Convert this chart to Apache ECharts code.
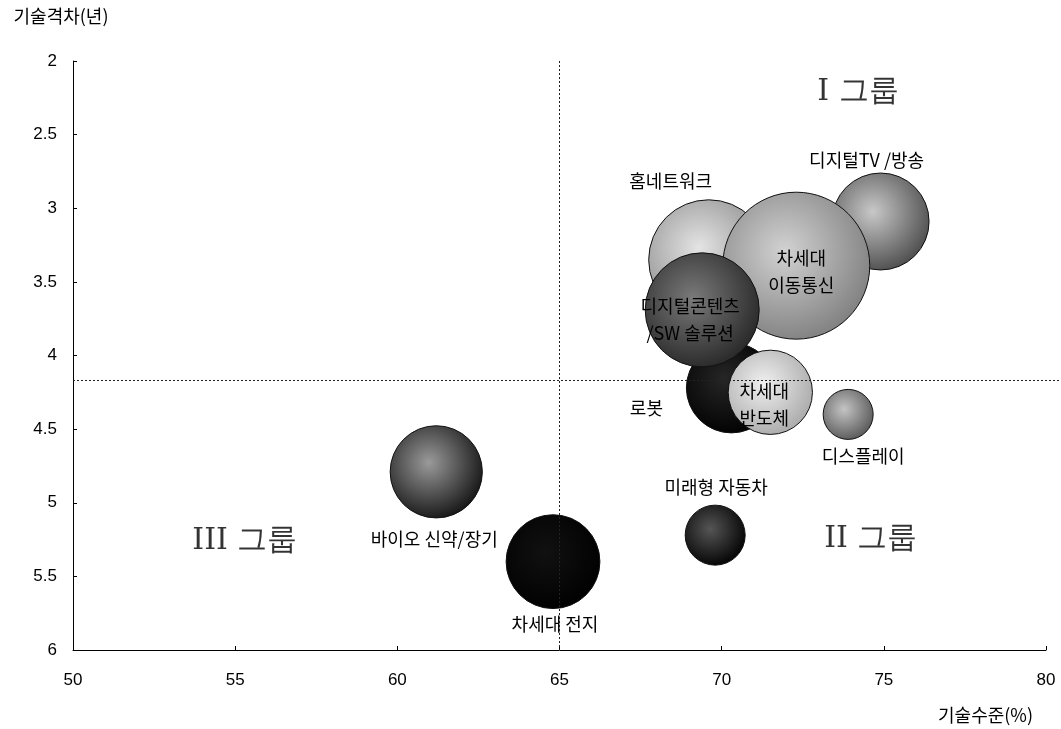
<!DOCTYPE html>
<html>
<head>
<meta charset="utf-8">
<script src="https://cdn.jsdelivr.net/npm/echarts@6/dist/echarts.min.js"></script>
<style>
  html, body { margin: 0; padding: 0; background: #fff; }
  #myChart { width: 1061px; height: 729px; }
</style>
</head>
<body>
<div id="myChart"></div>
<script>
// data
var names = ["디지털TV /방송", "홈네트워크", "차세대 이동통신", "로봇", "디지털콘텐츠 /SW 솔루션",
  "차세대 반도체", "디스플레이", "바이오 신약/장기", "미래형 자동차", "차세대 전지"];
var labels = ["디지털TV /방송", "홈네트워크", "차세대\n이동통신", "로봇", "디지털콘텐츠\n/SW 솔루션",
  "차세대\n반도체", "디스플레이", "바이오 신약/장기", "미래형 자동차", "차세대 전지"];
var techLevel = [74.9, 69.6, 72.3, 70.3, 69.4, 71.5, 73.9, 61.2, 69.8, 64.8];   // 기술수준(%)
var techGap = [3.09, 3.35, 3.39, 4.22, 3.69, 4.25, 4.40, 4.79, 5.22, 5.40];      // 기술격차(년)
var bubble = [94, 144, 216, 81, 130, 71, 25, 85, 36, 88];
var xTicks = [50, 55, 60, 65, 70, 75, 80];
var yTicks = [2, 2.5, 3, 3.5, 4, 4.5, 5, 5.5, 6];
var groups = ["I 그룹", "II 그룹", "III 그룹"];
var groupX = [74.2, 74.6, 55.3];
var groupY = [2.21, 5.25, 5.26];
var splitX = 65, splitY = 4.17;

// look of each bubble (grey tones of the print)
var tones = [
  ["#c8c8c8", "#4a4a4a"],
  ["#e4e4e4", "#8a8a8a"],
  ["#d2d2d2", "#7e7e7e"],
  ["#262626", "#000000"],
  ["#7a7a7a", "#262626"],
  ["#f0f0f0", "#a8a8a8"],
  ["#c4c4c4", "#555555"],
  ["#9a9a9a", "#111111"],
  ["#555555", "#000000"],
  ["#111111", "#000000"]
];
var offsets = [[-14, -61], [-38, -79], [5, 6], [-85, 20], [-12, 10],
  [-6, 12], [15, 42], [-2, 67], [1, -48], [2, 63]];

var chartDom = document.getElementById("myChart");
var myChart = echarts.init(chartDom, null, { renderer: "canvas" });

var pts = names.map(function (n, i) {
  return {
    name: n,
    value: [techLevel[i], techGap[i], bubble[i]],
    itemStyle: {
      color: {
        type: "radial", x: 0.42, y: 0.4, r: 0.65,
        colorStops: [{ offset: 0, color: tones[i][0] }, { offset: 1, color: tones[i][1] }]
      }
    },
    label: { offset: offsets[i], formatter: labels[i] }
  };
});

var grp = groups.map(function (g, i) {
  return { name: g, value: [groupX[i], groupY[i]] };
});

var kfont = "'Noto Sans CJK KR', 'Liberation Sans', sans-serif";
var nfont = "'Liberation Sans', Arial, sans-serif";

var option = {
  animation: false,
  backgroundColor: "#fff",
  grid: { left: 73, right: 15, top: 61, bottom: 79 },
  xAxis: {
    type: "value",
    min: 50, max: 80, interval: 5,
    axisLine: { show: true, onZero: false, lineStyle: { color: "#000", width: 1 } },
    axisTick: { show: true, inside: true, length: 4, lineStyle: { color: "#000" } },
    splitLine: { show: false },
    axisLabel: {
      color: "#000", fontSize: 17, margin: 22, fontFamily: nfont,
      formatter: function (v) { return xTicks.indexOf(v) >= 0 ? String(v) : ""; }
    }
  },
  yAxis: {
    type: "value",
    inverse: true,
    min: 2, max: 6, interval: 0.5,
    name: "기술격차(년)",
    nameLocation: "start",
    nameGap: 36,
    nameTextStyle: { color: "#000", fontSize: 18, fontFamily: kfont, align: "center", padding: [0, 0, 0, -24] },
    axisLine: { show: true, onZero: false, lineStyle: { color: "#000", width: 1 } },
    axisTick: { show: true, inside: true, length: 4, lineStyle: { color: "#000" } },
    splitLine: { show: false },
    axisLabel: {
      color: "#000", fontSize: 17, margin: 16, fontFamily: nfont,
      formatter: function (v) { return yTicks.indexOf(v) >= 0 ? String(v) : ""; }
    }
  },
  graphic: [{
    type: "text", right: 28, top: 706,
    style: { text: "기술수준(%)", fill: "#000", font: "18px " + kfont }
  }],
  series: [
    {
      name: "기술",
      type: "scatter",
      symbol: "circle",
      symbolSize: function (val) { return Math.sqrt(val[2]) * 10; },
      itemStyle: { borderColor: "#111", borderWidth: 1, opacity: 1 },
      label: {
        show: true, position: "inside", color: "#000",
        fontSize: 18, lineHeight: 27, fontFamily: kfont, align: "center"
      },
      emphasis: { disabled: true },
      data: pts,
      markLine: {
        silent: true,
        symbol: "none",
        label: { show: false },
        lineStyle: { color: "#222", type: [2, 2], width: 1 },
        data: [
          { xAxis: splitX },
          [{ coord: [50, splitY] }, { x: 1061, y: 61 + (splitY - 2) * 147.25 }]
        ]
      }
    },
    {
      name: "그룹",
      type: "scatter",
      symbolSize: 0,
      z: 1,
      label: {
        show: true, position: "inside", color: "#000",
        fontSize: 30, fontFamily: "'DejaVu Serif', 'Liberation Serif', serif",
        formatter: "{b}"
      },
      data: grp
    }
  ]
};

option && myChart.setOption(option);
window.addEventListener("resize", myChart.resize);
</script>
</body>
</html>
